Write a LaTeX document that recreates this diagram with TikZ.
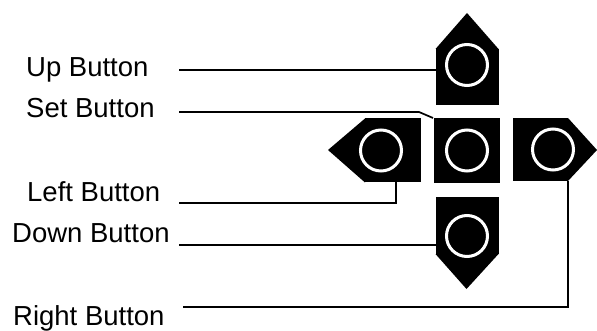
\documentclass[tikz,border=0pt]{standalone}
\usepackage{fontspec}
\setmainfont{Liberation Sans}
\usetikzlibrary{positioning}
\tikzset{padbody/.style={fill=black,inner sep=0pt,outer sep=0pt}}
\tikzset{upright/.style={padbody,minimum width=63pt,minimum height=56pt}}
\tikzset{sideways/.style={padbody,minimum width=56pt,minimum height=64pt}}
\tikzset{ring/.style={circle,draw=white,line width=3pt,inner sep=0pt,minimum size=41pt}}
\tikzset{caption/.style={anchor=base west,inner sep=0pt,font=\fontsize{27.5}{32}\selectfont}}
\tikzset{wire/.style={line width=1.7pt,black}}

\begin{document}
\begin{tikzpicture}[x=1pt,y=-1pt]
    \useasboundingbox (0,0) rectangle (597,331);
    \node[padbody,minimum width=66pt,minimum height=65pt] (setbody) at (467,150.5) {};
    \node[ring] (setring) at (setbody.center) {};
    \node[upright,above=13pt of setbody] (upbody) {};
        \coordinate (uptip) at (467,13);
        \fill (upbody.north west) -- (uptip) -- (upbody.north east) -- cycle;
        \node[ring] (upring) at ([yshift=12pt]upbody.center) {};
    \node[upright,below=14pt of setbody,minimum height=57pt] (downbody) {};
        \coordinate (downtip) at (466.5,289);
        \fill (downbody.south west) -- (downtip) -- (downbody.south east) -- cycle;
        \node[ring] (downring) at ([yshift=-10.5pt]downbody.center) {};
    \node[sideways,left=13pt of setbody] (leftbody) {};
        \coordinate (lefttip) at (328,150);
        \fill (leftbody.north west) -- (lefttip) -- (leftbody.south west) -- cycle;
        \node[ring] (leftring) at ([xshift=-12pt]leftbody.center) {};
    \node[sideways,right=13pt of setbody,yshift=1pt,minimum height=63pt,minimum width=55pt] (rightbody) {};
        \coordinate (righttip) at (597,150);
        \fill (rightbody.north east) -- (righttip) -- (rightbody.south east) -- cycle;
        \node[ring] (rightring) at ([xshift=12.5pt]rightbody.center) {};
    \node[caption] (uplabel) at (26,77) {Up Button};
    \node[caption] (setlabel) at (26,118) {Set Button};
    \node[caption] (leftlabel) at (27,202) {Left Button};
    \node[caption] (downlabel) at (12,243) {Down Button};
    \node[caption] (rightlabel) at (13,325) {Right Button};
    \coordinate (upstart) at (179,70);
    \coordinate (setstart) at (179,112);
    \coordinate (setbend) at (419,112);
    \coordinate (leftstart) at (179,203);
    \coordinate (leftdrop) at (396,203);
    \coordinate (downstart) at (179,245);
    \coordinate (rightstart) at (183,307);
    \coordinate (rightdrop) at (568,307);
    \draw[wire] (upstart) -- (upstart -| upbody.west);
    \draw[wire] (setstart) -- (setbend) -- ([xshift=-1pt]setbody.north west);
    \draw[wire] (leftstart) -- (leftdrop) -- (leftdrop |- leftbody.south);
    \draw[wire] (downstart) -- (downstart -| downbody.west);
    \draw[wire] (rightstart) -- (rightdrop) -- (rightdrop |- rightbody.south);
\end{tikzpicture}
\end{document}
